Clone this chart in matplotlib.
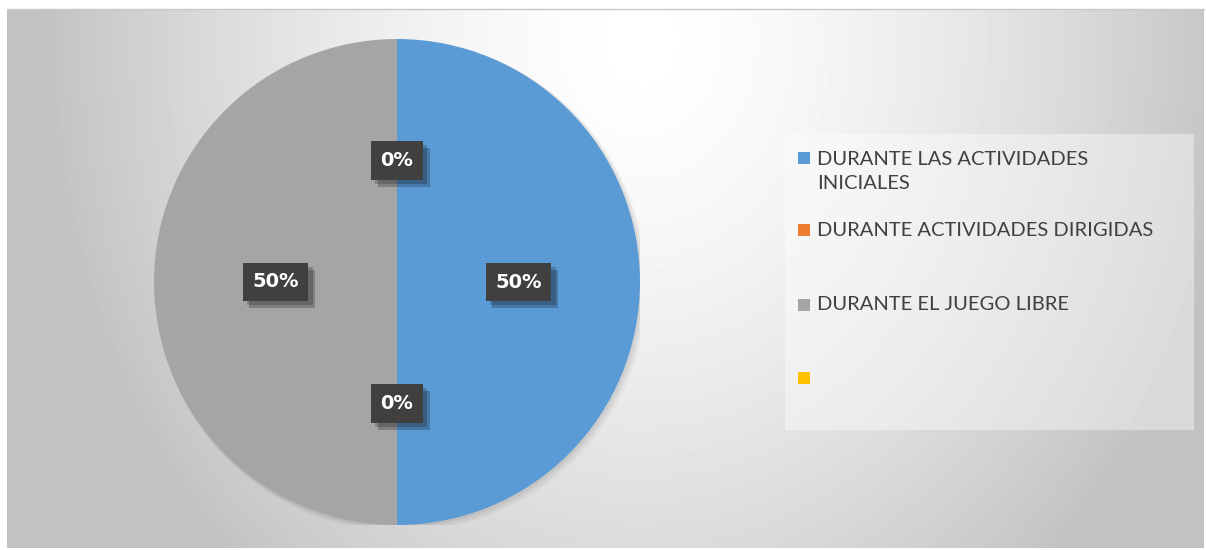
import matplotlib
matplotlib.use("Agg")
import matplotlib.pyplot as plt
import matplotlib.patheffects as pe
from matplotlib.patches import Rectangle, Circle
import numpy as np

labels = [
    "DURANTE LAS ACTIVIDADES\nINICIALES",
    "DURANTE ACTIVIDADES DIRIGIDAS",
    "DURANTE EL JUEGO LIBRE",
    "",
]
values = [50, 0, 50, 0]
colors = ["#5B9BD5", "#ED7D31", "#A5A5A5", "#FFC000"]

W, H = 1206, 550
fig = plt.figure(figsize=(W / 100, H / 100), dpi=100)
fig.patch.set_facecolor("white")


def px(x0, y0, x1, y1):
    # pixel box (top-left origin) -> figure coords
    return [x0 / W, 1 - y1 / H, (x1 - x0) / W, (y1 - y0) / H]


# chart area background: soft radial gradient
bg = fig.add_axes(px(7, 9, 1204, 548))
yy, xx = np.mgrid[9:548, 7:1204]
d = np.sqrt(((xx - 640) / 600.0) ** 2 + ((yy - 40) / 720.0) ** 2)
shade = 1 - 0.24 * np.clip(d, 0, 1) ** 1.5
bg.imshow(shade, cmap="gray", vmin=0, vmax=1, aspect="auto", interpolation="bilinear")
bg.set_axis_off()
fig.add_artist(plt.Line2D([7 / W, 1204 / W], [1 - 9 / H, 1 - 9 / H], color="#c8c8c8", lw=1))

# pie
ax = fig.add_axes(px(154, 39, 640, 525))
for k, a in [(0.025, 0.03), (0.017, 0.04), (0.009, 0.05)]:
    ax.add_patch(Circle((k * 0.7, -k * 0.7), 1 + k * 0.4, color="black", alpha=a, lw=0, zorder=0))
wedges, _, autotexts = ax.pie(
    values,
    colors=colors,
    startangle=90,
    counterclock=False,
    autopct=lambda p: f"{p:.0f}%",
    pctdistance=0.5,
    wedgeprops=dict(linewidth=0),
    textprops=dict(color="white", fontsize=14, fontweight="bold", family="DejaVu Sans"),
)
for w in wedges:
    w.set_zorder(2)
for t in autotexts:
    t.set_zorder(5)
    t.set_bbox(dict(boxstyle="square,pad=0.5", facecolor="#404040", edgecolor="none"))
    t.get_bbox_patch().set_path_effects(
        [pe.SimplePatchShadow(offset=(5, -5), shadow_rgbFace="black", alpha=0.22),
         pe.SimplePatchShadow(offset=(3, -3), shadow_rgbFace="black", alpha=0.2),
         pe.Normal()]
    )
ax.set_xlim(-1, 1)
ax.set_ylim(-1, 1)
ax.set_aspect("equal")

# legend box
fig.add_artist(Rectangle((785 / W, 1 - 430 / H), 409 / W, 296 / H, transform=fig.transFigure,
                         facecolor="white", alpha=0.4, edgecolor="none"))
entry_y = [158, 230, 305, 378]
for lab, col, y in zip(labels, colors, entry_y):
    fig.add_artist(Rectangle((798 / W, 1 - (y + 6) / H), 12 / W, 12 / H, transform=fig.transFigure,
                             facecolor=col, edgecolor="none"))
    ty = y + 13.5 if "\n" in lab else y
    fig.text(817 / W, 1 - ty / H, lab, ha="left", va="center",
             fontsize=14.5, color="#404040", family="Lato", linespacing=1.5)

fig.savefig("out.png", dpi=100)
